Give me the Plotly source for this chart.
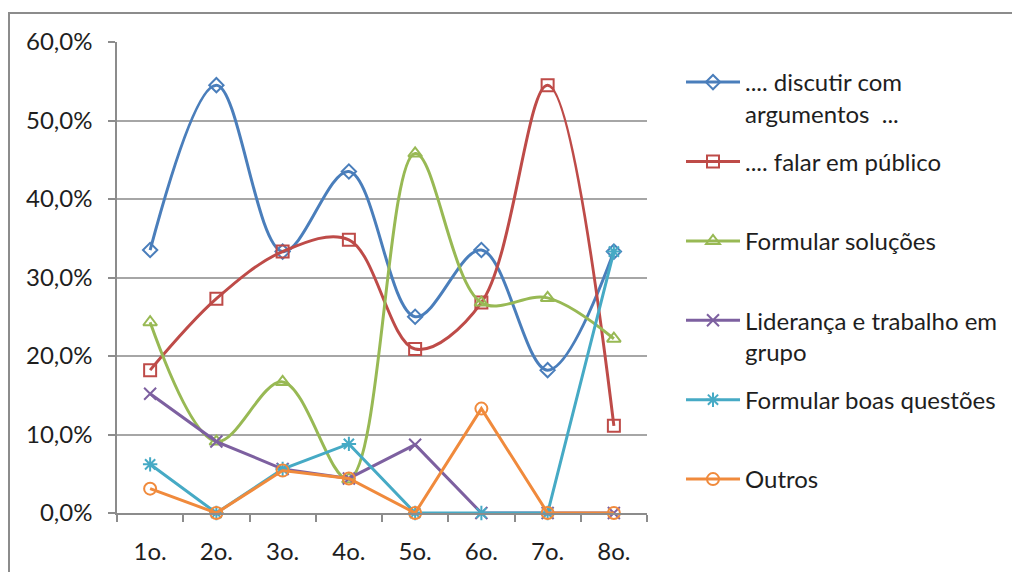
import plotly.graph_objects as go

categories = ["1o.", "2o.", "3o.", "4o.", "5o.", "6o.", "7o.", "8o."]

discutir = [0.335, 0.545, 0.333, 0.435, 0.250, 0.335, 0.182, 0.333]
falar = [0.182, 0.273, 0.333, 0.348, 0.209, 0.268, 0.545, 0.111]
solucoes = [0.243, 0.091, 0.167, 0.043, 0.458, 0.268, 0.274, 0.222]
lideranca = [0.152, 0.091, 0.056, 0.044, 0.087, 0.0, 0.0, 0.0]
questoes = [0.062, 0.0, 0.056, 0.088, 0.0, 0.0, 0.0, 0.333]
outros = [0.031, 0.0, 0.054, 0.044, 0.0, 0.133, 0.0, 0.0]

names = [
    ".... discutir com<br>argumentos  ...",
    ".... falar em público<br>\u00a0",
    "Formular soluções<br>\u00a0",
    "Liderança e trabalho em<br>grupo",
    "Formular boas questões<br>\u00a0",
    "Outros<br>\u00a0",
]
series = [discutir, falar, solucoes, lideranca, questoes, outros]
colors = ["#4A7EBB", "#BE4B48", "#98B954", "#7D60A0", "#46AAC5", "#F08A3C"]
symbols = ["diamond-open", "square-open", "triangle-up-open", "x-thin-open", "asterisk-open", "circle-open"]
sizes = [11, 12, 12, 12, 12, 12]
smooth = [True, True, True, False, False, False]

FONT = "Lato"
TXT = "#1E1E1E"

fig = go.Figure()
for i, (nm, vals) in enumerate(zip(names, series)):
    fig.add_trace(go.Scatter(
        x=categories, y=vals, name=nm, mode="lines+markers",
        line=dict(color=colors[i], width=3,
                  shape="spline" if smooth[i] else "linear", smoothing=1.0),
        marker=dict(symbol=symbols[i], size=sizes[i], color=colors[i],
                    line=dict(color=colors[i], width=2)),
        legendgroup=str(i), cliponaxis=False,
    ))

# page body has an 8px margin: figure origin sits at screen (8, 8)
W, H = 1012, 564
L, R, T, B = 109, 373, 34, 59
pw, ph = W - L - R, H - T - B
PLOT_LEFT_SCREEN, PLOT_BOTTOM_SCREEN = 117, 513


def px_x(sx):
    return (sx - PLOT_LEFT_SCREEN) / pw


def px_y(sy):
    return (PLOT_BOTTOM_SCREEN - sy) / ph


fig.add_shape(type="rect", xref="paper", yref="paper",
              x0=px_x(9), x1=px_x(1040), y0=px_y(13), y1=px_y(600),
              line=dict(color="#8C8C8C", width=2), fillcolor="rgba(0,0,0,0)",
              layer="below")

fig.update_layout(
    width=W, height=H,
    margin=dict(l=L, r=R, t=T, b=B, pad=0, autoexpand=False),
    paper_bgcolor="white", plot_bgcolor="white",
    separators=", ",
    font=dict(family=FONT, size=24, color=TXT),
    showlegend=True,
    legend=dict(
        x=px_x(681), y=px_y(60), xanchor="left", yanchor="top",
        font=dict(family=FONT, size=24, color=TXT),
        valign="top", tracegroupgap=14, itemwidth=54, maxheight=560,
        bgcolor="rgba(0,0,0,0)", borderwidth=0,
    ),
    xaxis=dict(
        type="category", tickson="boundaries", ticks="outside", ticklen=7,
        tickcolor="#8C8C8C", tickwidth=1.5, showgrid=False,
        showline=True, linecolor="#8C8C8C", linewidth=1.5,
        tickfont=dict(family=FONT, size=24, color=TXT),
        ticklabelstandoff=16, range=[-0.5, 7.5], fixedrange=True,
        automargin=False,
    ),
    yaxis=dict(
        range=[0, 0.6], dtick=0.1, tickformat=".1%",
        ticks="outside", ticklen=7, tickcolor="#8C8C8C", tickwidth=1.5,
        showgrid=True, gridcolor="#A6A6A6", gridwidth=1.5,
        showline=True, linecolor="#8C8C8C", linewidth=1.5,
        zeroline=False,
        tickfont=dict(family=FONT, size=24, color=TXT),
        ticklabelstandoff=11, fixedrange=True, automargin=False,
    ),
)

fig.write_html("out.html")
